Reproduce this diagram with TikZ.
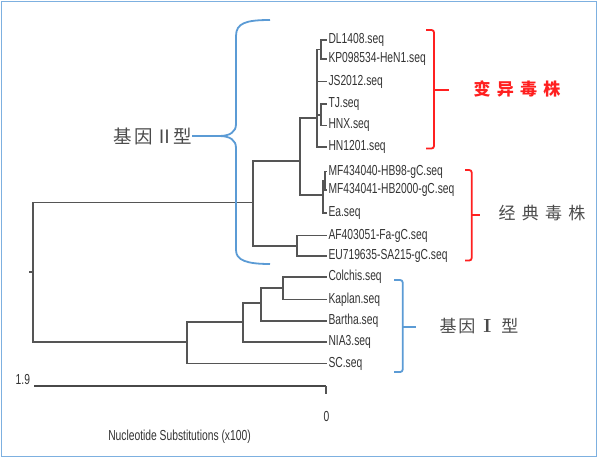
\documentclass[tikz,border=0pt]{standalone}
\usepackage{fontspec}
\newfontfamily\leaffont[FakeStretch=0.71]{Liberation Sans}
\newfontfamily\cjk[LetterSpace=37]{Noto Sans CJK SC}
\newfontfamily\cjktight[LetterSpace=10]{Noto Sans CJK SC}
\definecolor{treegray}{HTML}{555555}
\definecolor{textgray}{HTML}{333333}
\definecolor{cjkgray}{HTML}{4A4A4A}
\definecolor{bracered}{HTML}{FF2020}
\definecolor{braceblue}{HTML}{5B9BD5}
\definecolor{frameblue}{HTML}{7DB0E0}
\tikzset{
  branch/.style={treegray, line width=1.7pt},
  leaf/.style={anchor=west, inner xsep=1.8pt, inner ysep=0pt, text=textgray, font=\leaffont\fontsize{14.5}{16}\selectfont},
  cjklab/.style={inner sep=0pt, text=cjkgray, font=\cjk\fontsize{17}{17}\selectfont},
  bluebr/.style={braceblue, line width=1.8pt, rounded corners=2.5pt},
  redbr/.style={bracered, line width=1.8pt, rounded corners=2.5pt}
}

\begin{document}
\begin{tikzpicture}[x=1pt,y=-1pt]
    \useasboundingbox (0,0) rectangle (600,459);
    \draw[frameblue, line width=1.5pt] (1.5,1.5) rectangle (596.5,456.5);
    \foreach \n/\y/\t in {dl/40/DL1408.seq, kp/59/KP098534-HeN1.seq, js/81.5/JS2012.seq, tj/104/TJ.seq, hnx/125.5/HNX.seq, hn/147/HN1201.seq, mfa/171.5/MF434040-HB98-gC.seq, mfb/190/MF434041-HB2000-gC.seq, ea/213/Ea.seq, af/235.5/AF403051-Fa-gC.seq, eu/256/EU719635-SA215-gC.seq, colchis/277/Colchis.seq, kaplan/299.5/Kaplan.seq, bartha/320.7/Bartha.seq, nia/342/NIA3.seq, sc/363.5/SC.seq}
        \node[leaf] (\n) at (326.5,\y) {\t};
    \foreach \n/\x/\y in {root/33/272, gtwo/253/202.5, gone/187/342, upper/300/160.7, afeu/297/245.75, var/317/118, cls/323/195, dlkp/321/49.5, tjhnx/321/114.75, mfab/325/180.75, ione/243/321.7, itwo/260.7/302.7, ithree/283.3/288.3}
        \coordinate (\n) at (\x,\y);
    \foreach \p/\c in {root/gtwo, root/gone, gtwo/upper, gtwo/afeu, upper/var, upper/cls, var/dlkp, var/tjhnx, cls/mfab, gone/ione, ione/itwo, itwo/ithree}
        \draw[branch] (\p) |- (\c);
    \foreach \p/\c in {dlkp/dl, dlkp/kp, var/js, tjhnx/tj, tjhnx/hnx, var/hn, mfab/mfa, mfab/mfb, cls/ea, afeu/af, afeu/eu, ithree/colchis, ithree/kaplan, itwo/bartha, ione/nia, gone/sc}
        \draw[branch] (\p) |- (\c.west);
    \draw[branch] (root) -- ++(-4,0);
    \coordinate (barl) at (34,386);
    \coordinate (barr) at (326,386);
    \draw[treegray!85!black, line width=2.4pt] (barl) -- (barr);
    \draw[treegray, line width=1.2pt] (barr) -- ++(0,7.5);
    \node[leaf, anchor=east] (nine) at (32,379.5) {1.9};
    \node[leaf, anchor=center] (zero) at (326.5,416) {0};
    \node[leaf, anchor=center] (axis) at (179.5,437) {Nucleotide Substitutions (x100)};
    \node[cjklab, anchor=east] (lbltwo) at (192,136) {\cjktight\fontsize{18.5}{18.5}\selectfont 基因\kern3pt Ⅱ\kern-1pt 型};
    \node[cjklab, text=bracered, font=\cjk\bfseries\fontsize{17}{17}\selectfont] (lblvar) at (517,88.5) {变异毒株};
    \node[cjklab] (lblcls) at (542,213.5) {经典毒株};
    \node[cjklab] (lblone) at (479,326) {\cjktight 基因\hspace{8pt}{\rmfamily\bfseries\fontsize{19}{19}\selectfont I}\hspace{10pt}型};
    \draw[braceblue, line width=1.8pt] (270,20) .. controls (246,20) and (236,23) .. (236,36) -- (236,124) .. controls (236,132) and (230,136) .. (219,136) -- (lbltwo.east);
    \draw[braceblue, line width=1.8pt] (219,136) .. controls (230,136) and (236,140) .. (236,148) -- (236,250) .. controls (236,260) and (246,264) .. (270,264);
    \draw[redbr] (426,30) -- (434,30) -- (434,148.5) -- (426,148.5);
    \draw[redbr] (434,90) -- (449,90);
    \draw[redbr] (465,170) -- (471.7,170) -- (471.7,260.5) -- (465,260.5);
    \draw[redbr] (471.7,215) -- (480,215);
    \draw[bluebr] (394,280) -- (402.7,280) -- (402.7,372) -- (394,372);
    \draw[bluebr] (402.7,326.7) -- (416,326.7);
\end{tikzpicture}
\end{document}
